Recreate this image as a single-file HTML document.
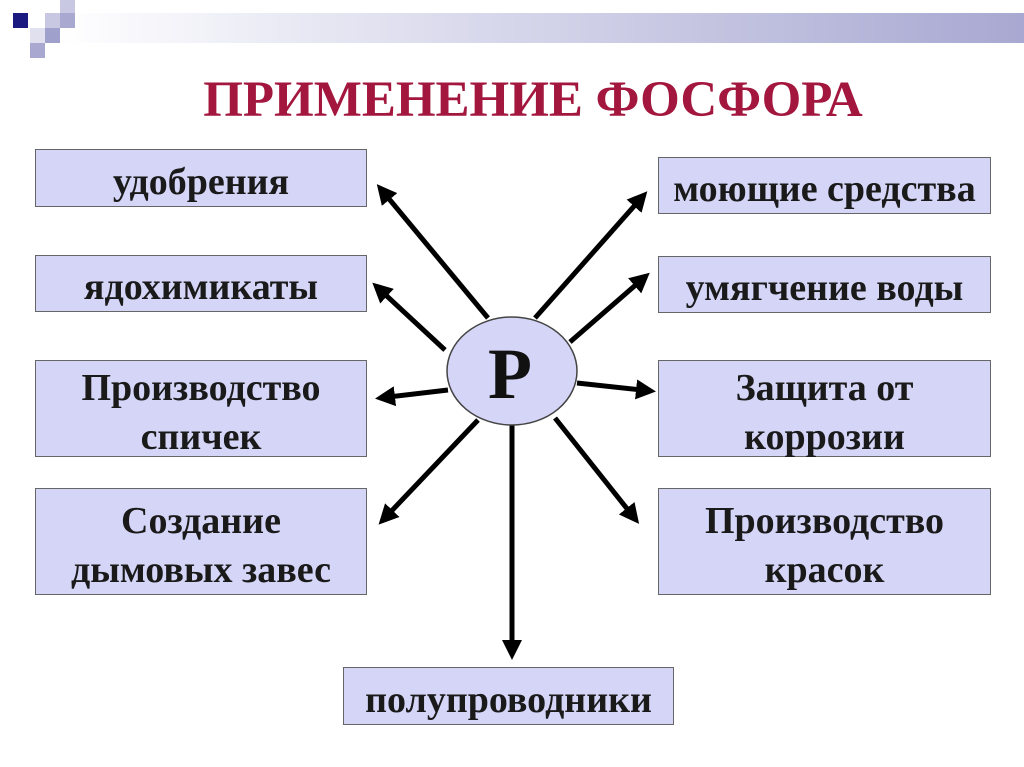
<!DOCTYPE html>
<html><head><meta charset="utf-8"><style>
html,body{margin:0;padding:0;background:#fff;}
body{width:1024px;height:767px;position:relative;overflow:hidden;font-family:"Liberation Serif","Noto Serif CJK SC",serif;}
.b{position:absolute;background:#d5d5f8;border:1.5px solid #666;box-sizing:border-box;display:flex;align-items:center;justify-content:center;text-align:center;font-weight:bold;font-size:38px;line-height:49px;color:#1a1a1a;white-space:nowrap;padding-top:8px;}
.sq{position:absolute;}
</style></head><body>
<div style="position:absolute;left:60px;top:13px;width:964px;height:30px;background:linear-gradient(to right,#fff 0%,#e4e4f2 30%,#a8a8d2 100%);"></div>
<div class="sq" style="left:13px;top:13px;width:15px;height:15px;background:#1a1a80"></div>
<div class="sq" style="left:45px;top:13px;width:15px;height:15px;background:#c8c8e2"></div>
<div class="sq" style="left:60px;top:0px;width:15px;height:13px;background:#c8c8e2"></div>
<div class="sq" style="left:60px;top:13px;width:15px;height:15px;background:#a8a8d0"></div>
<div class="sq" style="left:30px;top:28px;width:15px;height:15px;background:#e0e0ee"></div>
<div class="sq" style="left:45px;top:28px;width:15px;height:15px;background:#a0a0cc"></div>
<div class="sq" style="left:30px;top:43px;width:15px;height:15px;background:#a8a8d0"></div>
<div style="position:absolute;left:0;top:71px;width:1024px;text-align:center;font-weight:bold;font-size:51px;color:#a3163e;padding-left:42px;box-sizing:border-box;">ПРИМЕНЕНИЕ ФОСФОРА</div>

<div class="b" style="left:35px;top:149px;width:332px;height:58px">удобрения</div>
<div class="b" style="left:35px;top:255px;width:332px;height:57px">ядохимикаты</div>
<div class="b" style="left:35px;top:360px;width:332px;height:97px">Производство<br>спичек</div>
<div class="b" style="left:35px;top:488px;width:332px;height:107px">Создание<br>дымовых завес</div>
<div class="b" style="left:658px;top:157px;width:333px;height:57px">моющие средства</div>
<div class="b" style="left:658px;top:256px;width:333px;height:57px">умягчение воды</div>
<div class="b" style="left:658px;top:360px;width:333px;height:97px">Защита от<br>коррозии</div>
<div class="b" style="left:658px;top:488px;width:333px;height:107px">Производство<br>красок</div>
<div class="b" style="left:343px;top:667px;width:331px;height:58px">полупроводники</div>

<svg width="1024" height="767" style="position:absolute;left:0;top:0">
<defs><marker id="a" markerWidth="4" markerHeight="4" refX="3" refY="2" orient="auto" markerUnits="strokeWidth"><path d="M0,0 L4,2 L0,4 z" fill="#000"/></marker></defs>
<g stroke="#000" stroke-width="5" marker-end="url(#a)">
<line x1="488" y1="318" x2="380" y2="188"/>
<line x1="445" y1="350" x2="376" y2="286"/>
<line x1="448" y1="390" x2="380" y2="398"/>
<line x1="478" y1="420" x2="382" y2="521"/>
<line x1="535" y1="318" x2="644" y2="195"/>
<line x1="570" y1="342" x2="646" y2="276"/>
<line x1="577" y1="383" x2="651" y2="391"/>
<line x1="555" y1="418" x2="636" y2="520"/>
<line x1="512" y1="425" x2="512" y2="655"/>
</g>
<ellipse cx="512" cy="371" rx="65" ry="54" fill="#d5d5f8" stroke="#444" stroke-width="1.5"/>
<text x="510" y="398" text-anchor="middle" font-family="Liberation Serif, serif" font-weight="bold" font-size="72" fill="#111">P</text>
</svg>
</body></html>
